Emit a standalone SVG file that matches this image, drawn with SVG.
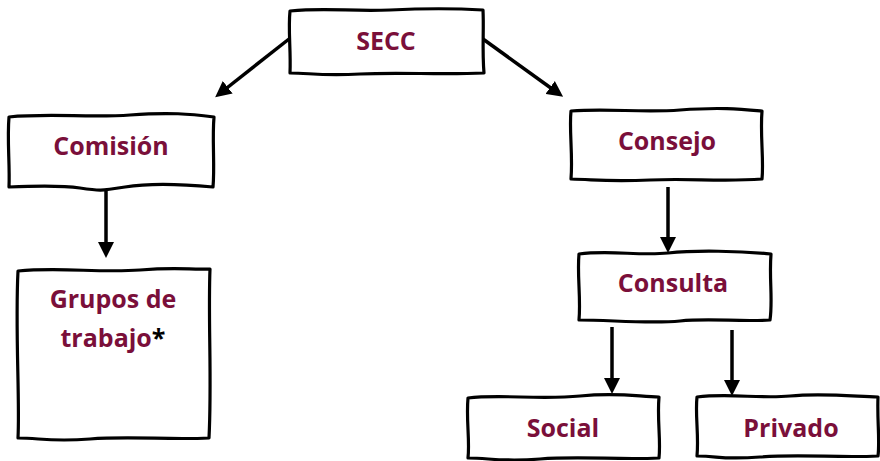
<svg xmlns="http://www.w3.org/2000/svg" width="880" height="461" viewBox="0 0 880 461">
<style>
.box{fill:#fff;stroke:#000;stroke-width:3.2;stroke-linejoin:round}
.lbl{font-family:"Open Sans","Liberation Sans",sans-serif;font-weight:700;font-size:25px;fill:#7a0f3a;text-anchor:middle}
.conn{stroke:#000;stroke-width:3.5;fill:none;marker-end:url(#ah)}
</style>
<defs>
<marker id="ah" markerUnits="userSpaceOnUse" markerWidth="16" markerHeight="16" refX="6" refY="8" orient="auto">
<path d="M0,0 L16,8 L0,16 Z" fill="#000"/>
</marker>
</defs>
<rect width="880" height="461" fill="#fff"/>
<g id="connectors">
<line class="conn" x1="289" y1="39" x2="223" y2="91"/>
<line class="conn" x1="483" y1="39" x2="555" y2="91"/>
<line class="conn" x1="106" y1="189" x2="106" y2="248"/>
<line class="conn" x1="668" y1="187" x2="668" y2="243"/>
<line class="conn" x1="612" y1="327" x2="612" y2="384"/>
<line class="conn" x1="732" y1="330" x2="732" y2="386"/>
</g>
<g id="secc">
<path class="box" d="M290,11 C330,7 350,12 390,10 S450,8 483,10 C484,30 482,50 484,73 C440,75 400,72 360,74 S310,73 290,73 C291,50 288,30 290,11 Z"/>
<text class="lbl" x="386" y="50">SECC</text>
</g>
<g id="comision">
<path class="box" d="M9,117 C50,113 90,118 130,115 S190,114 214,117 C212,140 215,165 213,187 C180,184 150,183 125,187 S100,191 80,188 S30,186 9,187 C10,165 7,140 9,117 Z"/>
<text class="lbl" x="111" y="155">Comisión</text>
</g>
<g id="grupos">
<path class="box" d="M18,271 C60,267 100,273 140,270 S190,270 210,269 C208,320 212,380 209,438 C170,440 130,436 90,439 S40,438 18,438 C20,400 15,330 18,271 Z"/>
<text class="lbl" x="113" y="308">Grupos de</text>
<text class="lbl" x="113" y="347">trabajo<tspan fill="#000">*</tspan></text>
</g>
<g id="consejo">
<path class="box" d="M571,111 C610,108 640,113 680,110 S740,109 762,111 C760,135 764,160 762,179 C720,182 690,178 650,180 S600,180 571,179 C573,155 569,130 571,111 Z"/>
<text class="lbl" x="667" y="150">Consejo</text>
</g>
<g id="consulta">
<path class="box" d="M579,254 C610,250 640,256 668,253 S740,251 771,254 C769,278 773,300 770,320 C740,322 710,318 680,321 S610,320 579,320 C581,298 577,275 579,254 Z"/>
<text class="lbl" x="673" y="292">Consulta</text>
</g>
<g id="social">
<path class="box" d="M468,398 C500,394 540,400 580,396 S640,397 659,397 C657,420 661,440 659,458 C620,460 580,456 540,459 S490,458 468,458 C470,440 466,420 468,398 Z"/>
<text class="lbl" x="563" y="437">Social</text>
</g>
<g id="privado">
<path class="box" d="M697,397 C730,393 760,399 790,396 S850,396 878,397 C877,420 880,440 878,456 C840,458 800,454 760,457 S720,456 697,456 C699,435 695,415 697,397 Z"/>
<text class="lbl" x="791" y="437">Privado</text>
</g>
</svg>
